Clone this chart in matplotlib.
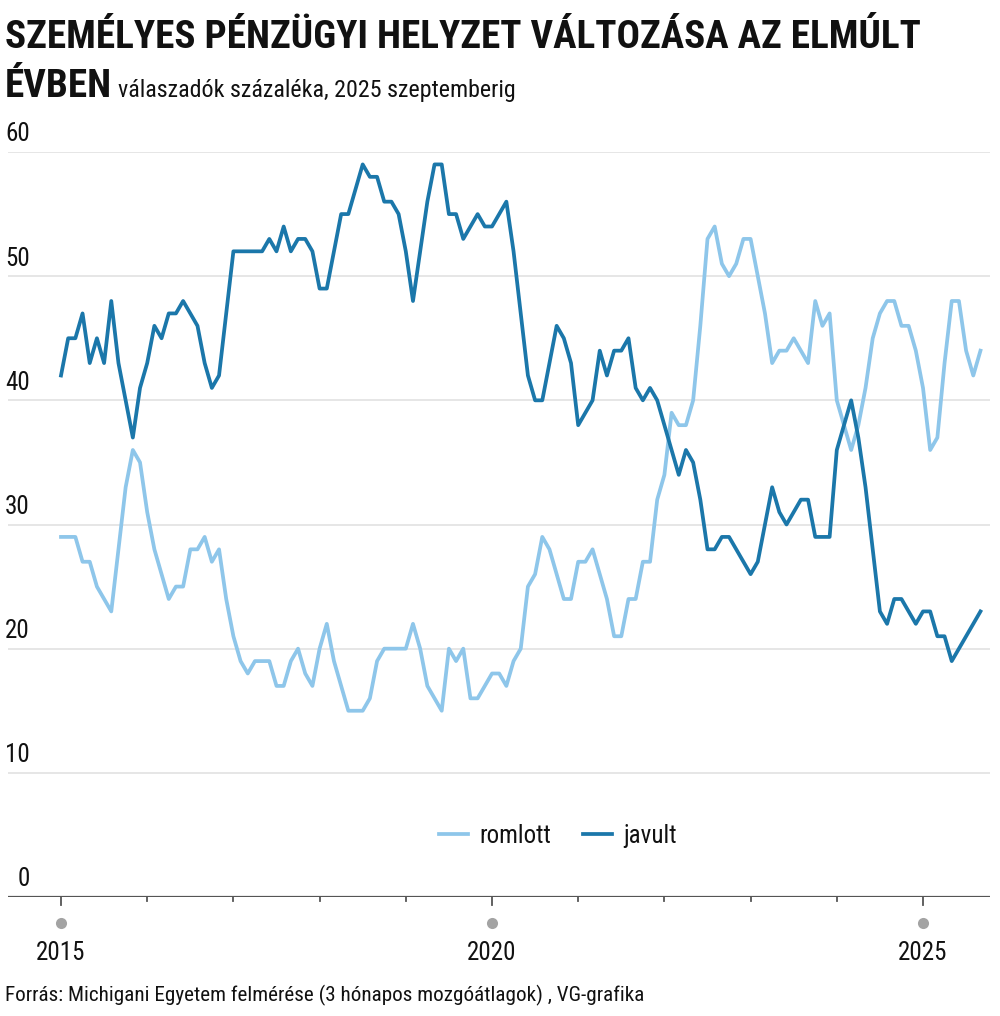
import matplotlib
matplotlib.use('Agg')
import matplotlib.pyplot as plt
from matplotlib import font_manager as fm
from matplotlib.transforms import blended_transform_factory
import numpy as np

avail = {f.name for f in fm.fontManager.ttflist}
def pick(*names):
    for n in names:
        if n in avail:
            return n
    return 'DejaVu Sans'
COND = pick('Liberation Sans Narrow', 'Roboto Condensed', 'Open Sans Condensed', 'DejaVu Sans')

# ---- data (monthly, Jan 2015 .. Sep 2025) ----
start_year = 2015
romlott = [29, 29, 29, 27, 27, 25, 24, 23, 28, 33, 36, 35, 31, 28, 26, 24, 25, 25, 28, 28, 29, 27, 28,
           24, 21, 19, 18, 19, 19, 19, 17, 17, 19, 20, 18, 17, 20, 22, 19, 17, 15, 15, 15, 16, 19, 20, 20, 20,
           20, 22, 20, 17, 16, 15, 20, 19, 20, 16, 16, 17, 18, 18, 17, 19, 20, 25, 26, 29, 28, 26, 24,
           24, 27, 27, 28, 26, 24, 21, 21, 24, 24, 27, 27, 32, 34, 39, 38, 38, 40, 46, 53, 54,
           51, 50, 51, 53, 53, 50, 47, 43, 44, 44, 45, 44, 43, 48, 46, 47, 40, 38, 36, 38,
           41, 45, 47, 48, 48, 46, 46, 44, 41, 36, 37, 43, 48, 48, 44, 42, 44]
javult = [42, 45, 45, 47, 43, 45, 43, 48, 43, 40, 37, 41, 43, 46, 45, 47, 47, 48, 47, 46, 43, 41, 42,
          47, 52, 52, 52, 52, 52, 53, 52, 54, 52, 53, 53, 52, 49, 49, 52, 55, 55, 57, 59, 58, 58, 56, 56, 55,
          52, 48, 52, 56, 59, 59, 55, 55, 53, 54, 55, 54, 54, 55, 56, 52, 47, 42, 40, 40, 43, 46, 45,
          43, 38, 39, 40, 44, 42, 44, 44, 45, 41, 40, 41, 40, 38, 36, 34, 36, 35, 32, 28, 28,
          29, 29, 28, 27, 26, 27, 30, 33, 31, 30, 31, 32, 32, 29, 29, 29, 36, 38, 40, 37,
          33, 28, 23, 22, 24, 24, 23, 22, 23, 23, 21, 21, 19, 20, 21, 22, 23]
series_names = ['romlott', 'javult']
y_ticks = [0, 10, 20, 30, 40, 50, 60]
year_ticks = list(range(2015, 2026))
year_labels = ['2015', '2020', '2025']

months = np.arange(len(javult))
x = start_year + months / 12.0

LIGHT = '#8EC6EA'
DARK = '#1B77AA'

W, H = 1000, 1016
fig = plt.figure(figsize=(W / 100, H / 100), dpi=100)
fig.patch.set_facecolor('white')

# axes placement in pixels
ax_l, ax_r, ax_t, ax_b = 8, 990, 152, 897
ax = fig.add_axes([ax_l / W, 1 - ax_b / H, (ax_r - ax_l) / W, (ax_b - ax_t) / H])
ax.set_facecolor('white')

x2015_px, x2025_px = 61, 923
ppy = (x2025_px - x2015_px) / 10.0
ax.set_xlim(2015 - (x2015_px - ax_l) / ppy, 2025 + (ax_r - x2025_px) / ppy)
ax.set_ylim(0, 60)

# gridlines
for v in y_ticks[1:]:
    ax.axhline(v, color='#E2E2E2', lw=1.2, zorder=1)
ax.axhline(0, color='#555555', lw=1.6, zorder=2)

ax.plot(x, romlott, color=LIGHT, lw=2.7, solid_joinstyle='round', label=series_names[0], zorder=3, clip_on=False)
ax.plot(x, javult, color=DARK, lw=2.7, solid_joinstyle='round', label=series_names[1], zorder=4, clip_on=False)

for s in ax.spines.values():
    s.set_visible(False)
ax.set_xticks([])
ax.set_yticks([])

ax_h_px = ax_b - ax_t
tr = blended_transform_factory(ax.transData, ax.transAxes)
# year ticks
for yr in year_ticks:
    big = yr in (2015, 2020, 2025)
    L = 8 if big else 4
    ax.plot([yr, yr], [0, -L / ax_h_px], transform=tr, color='#555555', lw=1.3, clip_on=False, zorder=2)
for lab in year_labels:
    yr = int(lab)
    ax.plot([yr], [-26 / ax_h_px], transform=tr, marker='o', ms=8, color='#A3A3A3', mec='none', clip_on=False)
    ax.text(yr, -56 / ax_h_px, lab, transform=tr, ha='center', va='center',
            fontsize=18, family=COND, color='#111111')

# y labels
ytr = blended_transform_factory(ax.transAxes, ax.transData)
for v in y_ticks:
    ax.text((30 - ax_l) / (ax_r - ax_l), v + 0.45, str(v), transform=ytr, ha='right', va='bottom',
            fontsize=18, family=COND, color='#111111')

# legend
leg = fig.legend(loc='center', bbox_to_anchor=(558 / W, 1 - 836 / H), ncol=2, frameon=False,
                 handlelength=1.15, handletextpad=0.45, columnspacing=1.3,
                 prop={'family': COND, 'size': 18})
for t in leg.get_texts():
    t.set_color('#111111')

# title
fig.text(5 / W, 1 - 48 / H, 'SZEMÉLYES PÉNZÜGYI HELYZET VÁLTOZÁSA AZ ELMÚLT', ha='left', va='baseline',
         fontsize=28.2, fontweight='bold', family=COND, color='#111111')
fig.text(5 / W, 1 - 97 / H, 'ÉVBEN', ha='left', va='baseline',
         fontsize=28.2, fontweight='bold', family=COND, color='#111111')
fig.text(118 / W, 1 - 97 / H, 'válaszadók százaléka, 2025 szeptemberig', ha='left', va='baseline',
         fontsize=17.3, family=COND, color='#111111')

# source
fig.text(5 / W, 1 - 1001 / H, 'Forrás: Michigani Egyetem felmérése (3 hónapos mozgóátlagok) , VG-grafika',
         ha='left', va='baseline', fontsize=15.2, family=COND, color='#111111')

fig.savefig('out.png', dpi=100, facecolor='white')
